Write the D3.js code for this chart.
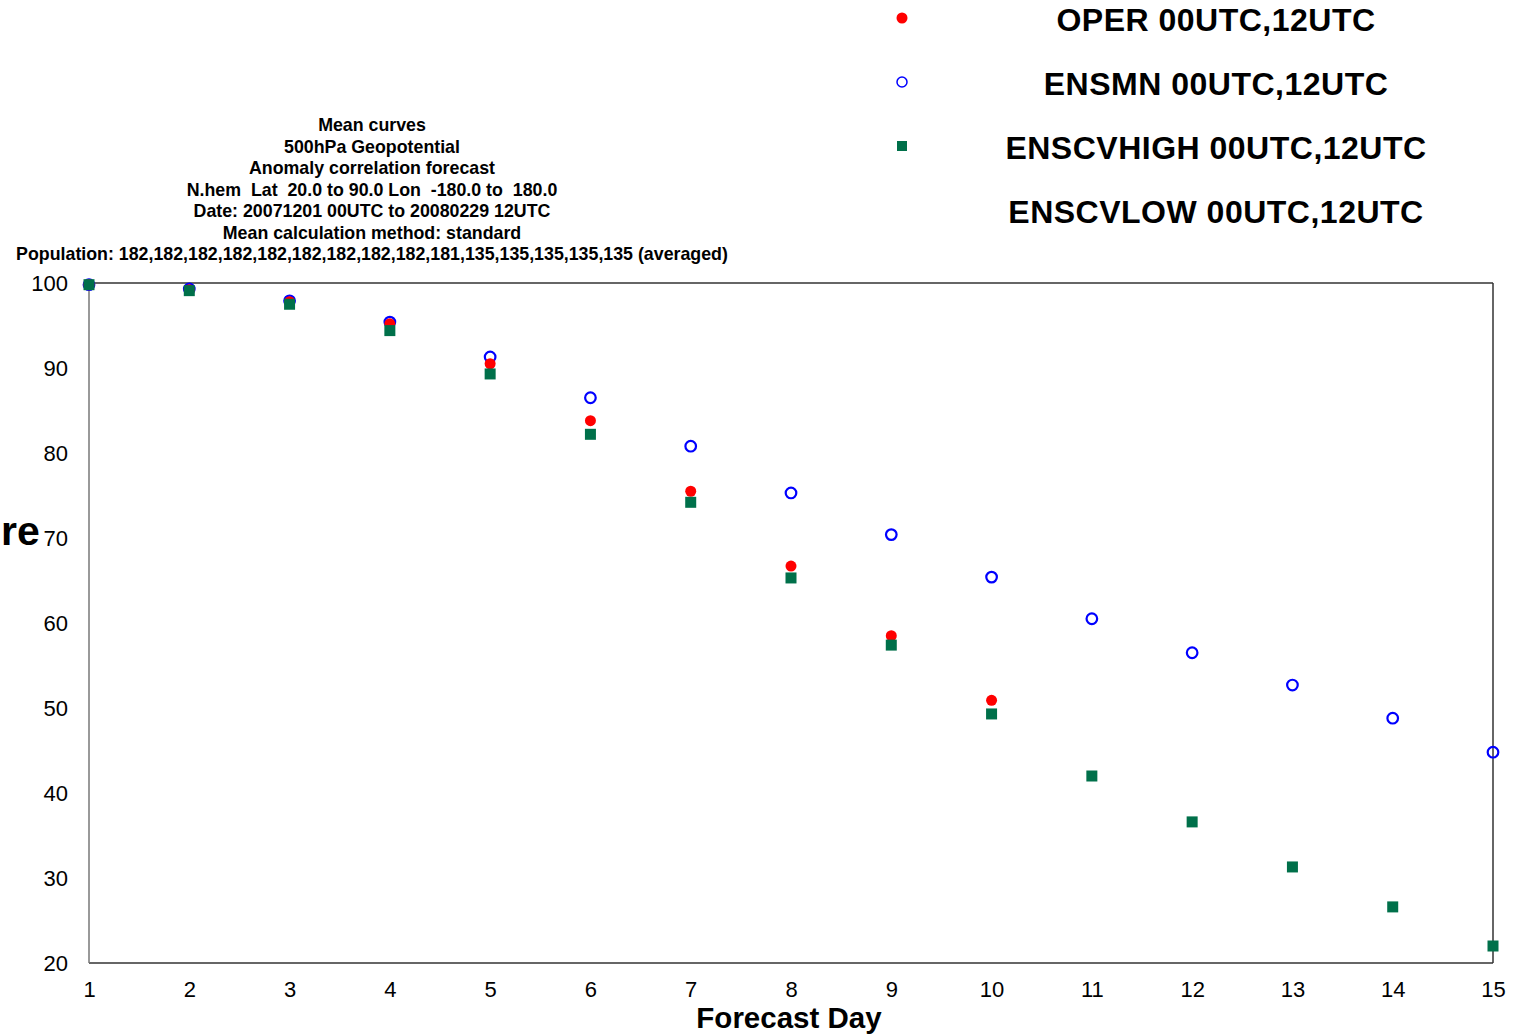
<!DOCTYPE html>
<html><head><meta charset="utf-8">
<script src="https://cdn.jsdelivr.net/npm/d3@7"></script>
<style>body{margin:0;background:#fff}svg{display:block}text{font-family:"Liberation Sans",Arial,sans-serif}</style>
</head><body>
<svg id="c" width="1526" height="1034"></svg>
<script>
const days = [1,2,3,4,5,6,7,8,9,10,11,12,13,14,15];
const oper = [99.8,99.2,97.8,95.2,90.5,83.8,75.5,66.7,58.5,50.9,null,null,null,null,null];
const ensmn = [99.8,99.3,97.9,95.4,91.3,86.5,80.8,75.3,70.4,65.4,60.5,56.5,52.7,48.8,44.8];
const enscvhigh = [99.8,99.1,97.5,94.4,89.3,82.2,74.2,65.3,57.4,49.3,42.0,36.6,31.3,26.6,22.0];
const enscvlow = [null,null,null,null,null,null,null,null,null,null,null,null,null,null,null];
const yTicks = [20,30,40,50,60,70,80,90,100];
const titleLines = ["Mean curves","500hPa Geopotential","Anomaly correlation forecast",
 "N.hem  Lat  20.0 to 90.0 Lon  -180.0 to  180.0","Date: 20071201 00UTC to 20080229 12UTC",
 "Mean calculation method: standard",
 "Population: 182,182,182,182,182,182,182,182,182,181,135,135,135,135,135 (averaged)"];
const legendLabels = ["OPER 00UTC,12UTC","ENSMN 00UTC,12UTC","ENSCVHIGH 00UTC,12UTC","ENSCVLOW 00UTC,12UTC"];

const svg = d3.select("#c");
const L=89,R=1493,T=283,B=963;
const x = d3.scaleLinear().domain([1,15]).range([L,R]);
const y = d3.scaleLinear().domain([20,100]).range([B,T]);

// frame
svg.append("line").attr("x1",L).attr("x2",R).attr("y1",T).attr("y2",T).attr("stroke","#333").attr("stroke-width",1.5);
svg.append("line").attr("x1",L).attr("x2",R).attr("y1",B).attr("y2",B).attr("stroke","#333").attr("stroke-width",1.5);
svg.append("line").attr("x1",R).attr("x2",R).attr("y1",T).attr("y2",B).attr("stroke","#333").attr("stroke-width",1.5);
svg.append("line").attr("x1",L).attr("x2",L).attr("y1",T).attr("y2",B).attr("stroke","#777").attr("stroke-width",1.5);

// axes via d3
const ya = svg.append("g").attr("transform",`translate(${L},0)`)
  .call(d3.axisLeft(y).tickValues(yTicks).tickSize(0).tickPadding(21).tickFormat(d3.format("d")));
ya.select(".domain").remove();
ya.selectAll("text").attr("font-size",22).attr("fill","#000").attr("font-family","Liberation Sans, Arial").attr("dy","0.32em");
const xa = svg.append("g").attr("transform",`translate(0,${B})`)
  .call(d3.axisBottom(x).tickValues(days).tickSize(0).tickPadding(18).tickFormat(d3.format("d")));
xa.select(".domain").remove();
xa.selectAll("text").attr("font-size",22).attr("fill","#000").attr("font-family","Liberation Sans, Arial");

svg.append("text").attr("x",789).attr("y",1028).attr("text-anchor","middle")
  .attr("font-size",29.5).attr("font-weight","bold").text("Forecast Day");
svg.append("text").attr("x",1).attr("y",545).attr("text-anchor","start")
  .attr("font-size",41).attr("font-weight","bold").text("re");

// title
svg.append("g").selectAll("text").data(titleLines).join("text")
  .attr("x",372).attr("y",(d,i)=>131+i*21.5).attr("text-anchor","middle")
  .style("white-space","pre")
  .attr("font-size",17.8).attr("font-weight","bold").text(d=>d);

// series
const blue="#0000ff",red="#ff0000",green="#00704a";
const pts = arr => days.map((d,i)=>({d,v:arr[i]})).filter(p=>p.v!=null);
svg.append("g").selectAll("circle").data(pts(ensmn)).join("circle")
  .attr("cx",p=>x(p.d)).attr("cy",p=>y(p.v)).attr("r",5.3).attr("fill","none").attr("stroke",blue).attr("stroke-width",2.2);
svg.append("g").selectAll("circle").data(pts(oper)).join("circle")
  .attr("cx",p=>x(p.d)).attr("cy",p=>y(p.v)).attr("r",5.5).attr("fill",red);
svg.append("g").selectAll("rect").data(pts(enscvhigh)).join("rect")
  .attr("x",p=>x(p.d)-5.5).attr("y",p=>y(p.v)-5.5).attr("width",11).attr("height",11).attr("fill",green);

// legend
const lg = svg.append("g");
const ly = [18,82,146,210];
lg.append("circle").attr("cx",902).attr("cy",ly[0]).attr("r",5.5).attr("fill",red);
lg.append("circle").attr("cx",902).attr("cy",ly[1]).attr("r",5).attr("fill","none").attr("stroke",blue).attr("stroke-width",1.5);
lg.append("rect").attr("x",897).attr("y",ly[2]-5).attr("width",10).attr("height",10).attr("fill",green);
lg.selectAll("text").data(legendLabels).join("text")
  .attr("x",1216).attr("y",(d,i)=>ly[i]+13).attr("text-anchor","middle")
  .attr("font-size",32).attr("font-weight","bold").attr("letter-spacing",0.5).text(d=>d);
</script>
</body></html>
